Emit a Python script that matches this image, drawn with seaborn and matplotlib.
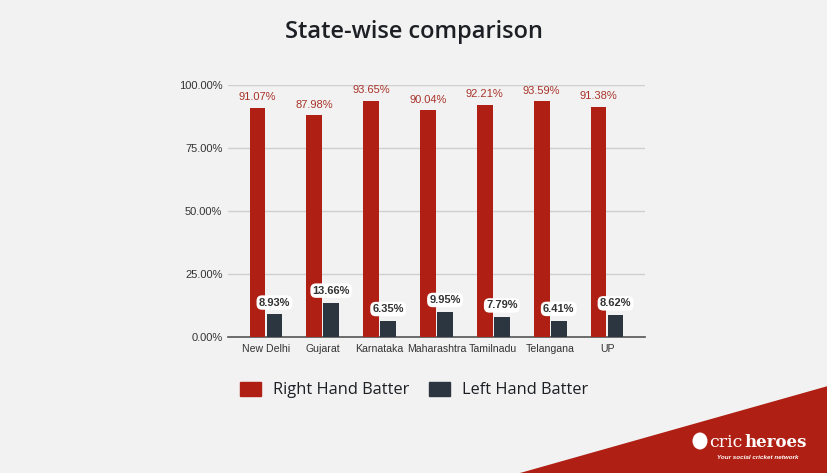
import matplotlib
matplotlib.use("Agg")
import matplotlib.pyplot as plt
import matplotlib.patches as mpatches
import seaborn as sns
import pandas as pd

states = ["New Delhi", "Gujarat", "Karnataka", "Maharashtra", "Tamilnadu", "Telangana", "UP"]
right_hand = [91.07, 87.98, 93.65, 90.04, 92.21, 93.59, 91.38]
left_hand = [8.93, 13.66, 6.35, 9.95, 7.79, 6.41, 8.62]
series = ["Right Hand Batter", "Left Hand Batter"]
yticks = [0, 25, 50, 75, 100]

RED = "#b01f14"
DARK = "#2c3640"
BG = "#f2f2f2"

df = pd.DataFrame({
    "state": states * 2,
    "value": right_hand + left_hand,
    "series": [series[0]] * len(states) + [series[1]] * len(states),
})

sns.set_theme(style="white")
plt.rcParams["font.family"] = ["Liberation Sans", "DejaVu Sans"]

fig = plt.figure(figsize=(8.28, 4.73), dpi=100, facecolor=BG)
ax = fig.add_axes([228 / 828, 1 - 337 / 473, 417 / 828, 252 / 473])
ax.set_facecolor(BG)

sns.barplot(data=df, x="state", y="value", hue="series", order=states,
            hue_order=series, palette=[RED, DARK], width=0.6, gap=0.08,
            saturation=1, legend=False, ax=ax, zorder=3, linewidth=0,
            edgecolor="none")

ax.set_xlim(-0.667, 6.667)
ax.set_ylim(0, 100)
ax.set_yticks(yticks)
ax.set_yticklabels([f"{v:.2f}%" for v in yticks])
ax.yaxis.grid(True, color="#cfcfcf", linewidth=1, zorder=0)
ax.set_axisbelow(True)
for s in ["left", "right", "top"]:
    ax.spines[s].set_visible(False)
ax.spines["bottom"].set_color("#555555")
ax.spines["bottom"].set_linewidth(1.2)
ax.tick_params(axis="both", length=0, colors="#333333")
ax.tick_params(axis="x", pad=5, labelsize=7.6)
ax.tick_params(axis="y", pad=4, labelsize=8)
ax.set_xlabel("")
ax.set_ylabel("")

c_red, c_dark = ax.containers[0], ax.containers[1]
ax.bar_label(c_red, labels=[f"{v:.2f}%" for v in right_hand], padding=4,
             fontsize=8, color="#a8332a", clip_on=False)
ax.bar_label(c_dark, labels=[f"{v:.2f}%" for v in left_hand], padding=5,
             fontsize=8, color="#333333", fontweight="bold", clip_on=False,
             bbox=dict(boxstyle="round,pad=0.2,rounding_size=0.5", fc="white", ec="none"))

fig.text(0.5, 1 - 32 / 473, "State-wise comparison", ha="center", va="center",
         fontsize=17, fontweight="semibold", color="#1c1f24", family=["Open Sans", "DejaVu Sans"])

handles = [mpatches.FancyBboxPatch((0, 0), 1, 1, boxstyle="round,pad=0,rounding_size=2",
                                   facecolor=RED, edgecolor=RED),
           mpatches.FancyBboxPatch((0, 0), 1, 1, boxstyle="round,pad=0,rounding_size=2",
                                   facecolor=DARK, edgecolor=DARK)]
handles = [mpatches.Patch(facecolor=RED, edgecolor=RED), mpatches.Patch(facecolor=DARK, edgecolor=DARK)]
leg = fig.legend(handles, series, loc="center", bbox_to_anchor=(414 / 828, 1 - 390 / 473),
                 ncol=2, frameon=False, handlelength=1.27, handleheight=0.98,
                 columnspacing=1.22, handletextpad=0.73,
                 prop={"family": ["Open Sans", "DejaVu Sans"], "size": 11.8})
for t in leg.get_texts():
    t.set_color("#1c1f24")

tri = mpatches.Polygon([(520 / 828, 0), (1, 1 - 386 / 473), (1, 0)], closed=True,
                       transform=fig.transFigure, facecolor=RED, edgecolor="none")
fig.patches.append(tri)
circ = mpatches.Ellipse((700 / 828, 1 - 441 / 473), 15 / 828, 17 / 473, transform=fig.transFigure,
                        facecolor="white", edgecolor="none")
fig.patches.append(circ)
fig.text(709 / 828, 1 - 442 / 473, "cric", ha="left", va="center", fontsize=12.5,
         color="white", family=["DejaVu Serif"])
fig.text(744 / 828, 1 - 442 / 473, "heroes", ha="left", va="center", fontsize=12,
         color="white", fontweight="bold", family=["DejaVu Serif"])
fig.text(717 / 828, 1 - 457 / 473, "Your social cricket network", ha="left", va="center",
         fontsize=4.5, color="white", style="italic", fontweight="bold")

fig.savefig("out.png", dpi=100, facecolor=BG)
